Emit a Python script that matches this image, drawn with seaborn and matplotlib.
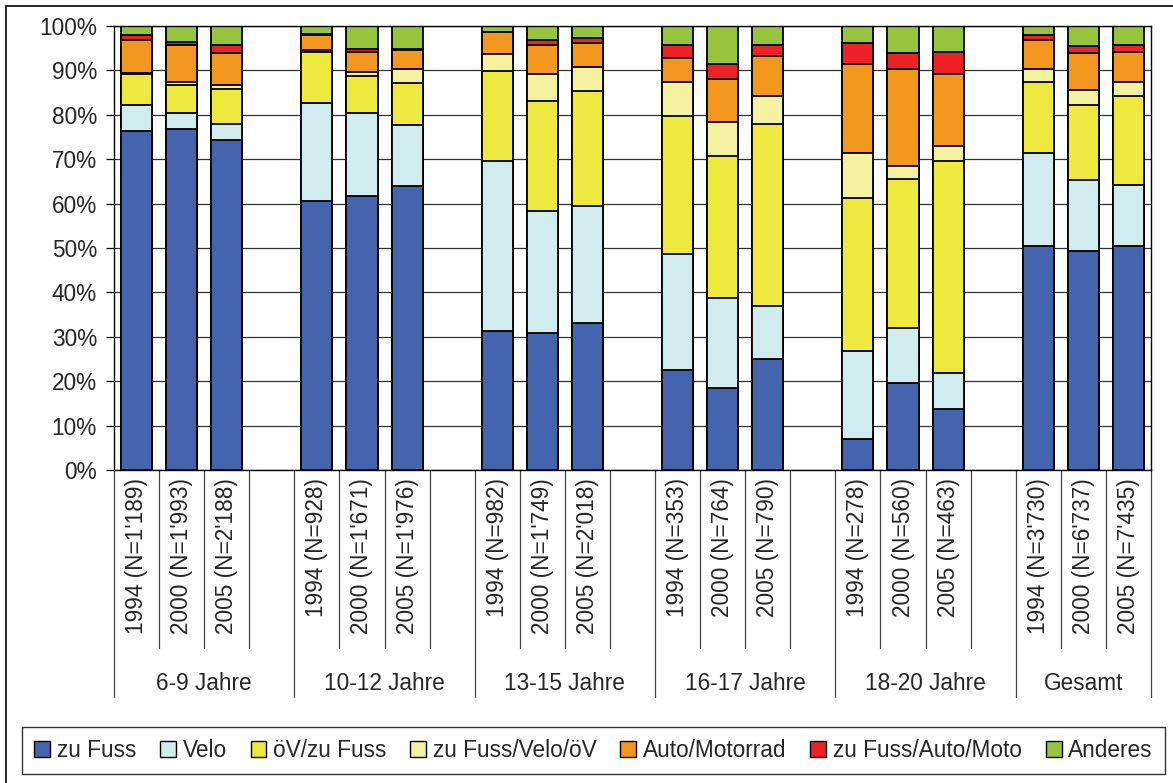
import numpy as np
import pandas as pd
import matplotlib.pyplot as plt
import matplotlib.patches as mpatches
import matplotlib.ticker as mticker
import seaborn as sns

groups = ["6-9 Jahre", "10-12 Jahre", "13-15 Jahre", "16-17 Jahre", "18-20 Jahre", "Gesamt"]
bar_labels = [
    "1994 (N=1'189)", "2000 (N=1'993)", "2005 (N=2'188)",
    "1994 (N=928)", "2000 (N=1'671)", "2005 (N=1'976)",
    "1994 (N=982)", "2000 (N=1'749)", "2005 (N=2'018)",
    "1994 (N=353)", "2000 (N=764)", "2005 (N=790)",
    "1994 (N=278)", "2000 (N=560)", "2005 (N=463)",
    "1994 (N=3'730)", "2000 (N=6'737)", "2005 (N=7'435)",
]
modes = ["zu Fuss", "Velo", "öV/zu Fuss", "zu Fuss/Velo/öV",
         "Auto/Motorrad", "zu Fuss/Auto/Moto", "Anderes"]

# shares in percent, one value per bar
zu_fuss = [76.4, 76.8, 74.3, 60.6, 61.6, 63.9, 31.2, 30.9, 33.0,
           22.5, 18.5, 25.0, 6.9, 19.7, 13.8, 50.4, 49.4, 50.4]
velo = [5.8, 3.6, 3.6, 22.1, 18.8, 13.7, 38.5, 27.5, 26.5,
        26.1, 20.3, 12.0, 19.9, 12.3, 8.0, 21.1, 15.9, 13.8]
oev_fuss = [7.0, 6.2, 8.0, 11.5, 8.4, 9.5, 20.2, 24.7, 25.8,
            31.1, 31.9, 40.9, 34.5, 33.6, 47.9, 15.9, 17.0, 20.0]
fuss_velo_oev = [0.2, 0.8, 0.7, 0.3, 0.8, 3.2, 3.7, 6.2, 5.4,
                 7.7, 7.7, 6.3, 10.2, 2.9, 3.2, 2.9, 3.3, 3.2]
auto_motorrad = [7.4, 8.3, 7.4, 3.5, 4.6, 4.4, 5.0, 6.5, 5.4,
                 5.4, 9.7, 9.0, 19.9, 21.8, 16.4, 6.5, 8.4, 6.8]
fuss_auto_moto = [1.2, 0.7, 1.8, 0.3, 0.7, 0.2, 0.1, 1.0, 1.1,
                  3.0, 3.3, 2.6, 4.8, 3.6, 4.9, 1.2, 1.4, 1.5]
anderes = [2.0, 3.6, 4.2, 1.7, 5.1, 5.1, 1.3, 3.2, 2.8,
           4.2, 8.6, 4.2, 3.8, 6.1, 5.8, 2.0, 4.6, 4.3]

colors = ["#4465AD", "#D0ECEF", "#EEE93E", "#F4F1A0", "#F4971F", "#EE2226", "#96C43C"]

FS = 16.3


def main():
    df = pd.DataFrame({
        modes[0]: zu_fuss, modes[1]: velo, modes[2]: oev_fuss,
        modes[3]: fuss_velo_oev, modes[4]: auto_motorrad,
        modes[5]: fuss_auto_moto, modes[6]: anderes,
    })
    # 4 slots per age group (3 bars + gap), the last group has no gap
    df["pos"] = [g * 4 + j for g in range(len(groups)) for j in range(3)]
    cum = df[modes].cumsum(axis=1)
    cum["pos"] = df["pos"]

    sns.set_style("white")
    plt.rcParams['font.family'] = ['Liberation Sans', 'DejaVu Sans']

    fig = plt.figure(figsize=(11.73, 7.83), dpi=100)
    ax = fig.add_axes([114 / 1173, 1 - 470 / 783, 1037 / 1173, 444 / 783])

    # stacked bars: draw tallest cumulative first, then cover with shorter ones
    for k in reversed(range(len(modes))):
        sns.barplot(data=cum, x="pos", y=modes[k], native_scale=True,
                    color=colors[k], saturation=1, width=0.69,
                    edgecolor="black", linewidth=1.3, errorbar=None,
                    ax=ax, zorder=2)

    ax.set_xlim(-0.5, 22.5)
    ax.set_ylim(0, 100)
    ax.set_xlabel("")
    ax.set_ylabel("")
    ax.set_yticks(np.arange(0, 101, 10))
    ax.yaxis.set_major_formatter(mticker.PercentFormatter(decimals=0))
    ax.yaxis.grid(True, color="#333333", lw=0.9)
    ax.set_axisbelow(True)
    ax.tick_params(axis="y", length=5.8, width=0.9, pad=6.5, labelsize=FS,
                   left=True, color="black")

    ax.set_xticks(df["pos"])
    ax.set_xticklabels(bar_labels, rotation=90, va="top", ha="center")
    ax.tick_params(axis="x", length=0, pad=5.8, labelsize=FS)

    for s in ax.spines.values():
        s.set_color("black")
        s.set_linewidth(1.0)

    # category separators below the axis
    trans = ax.get_xaxis_transform()
    bounds = [g * 4 - 0.5 for g in range(len(groups))] + [22.5]
    for b in bounds:
        ax.plot([b, b], [0, -0.511], transform=trans, color="#444444",
                lw=0.9, clip_on=False)
    for p in df["pos"]:
        if p + 0.5 not in bounds:
            ax.plot([p + 0.5, p + 0.5], [0, -0.401], transform=trans,
                    color="#444444", lw=0.9, clip_on=False)
    for g, name in enumerate(groups):
        xc = (bounds[g] + bounds[g + 1]) / 2
        ax.text(xc, -0.48, name, transform=trans, ha="center", va="center",
                fontsize=FS)

    handles = [mpatches.Patch(facecolor=c, edgecolor="black", lw=1.0) for c in colors]
    leg = fig.legend(handles, modes, loc="center",
                     bbox_to_anchor=(593.5 / 1173, 1 - 750.5 / 783),
                     ncol=7, frameon=True, fancybox=False, edgecolor="#333333",
                     handlelength=0.7, handleheight=0.7, handletextpad=0.3,
                     columnspacing=1.05, borderpad=0.55, fontsize=FS)
    leg.get_frame().set_linewidth(1.0)
    leg.get_frame().set_alpha(1)

    # outer chart border (cut off at the right and bottom like the source)
    top = 1 - 6 / 783
    fig.patches.append(mpatches.Rectangle((6 / 1173, -0.05), 1.05, top + 0.05,
                                          transform=fig.transFigure, fill=False,
                                          edgecolor="black", lw=1.2))

    fig.savefig("out.png", dpi=100)
    plt.close(fig)


if __name__ == "__main__":
    main()
